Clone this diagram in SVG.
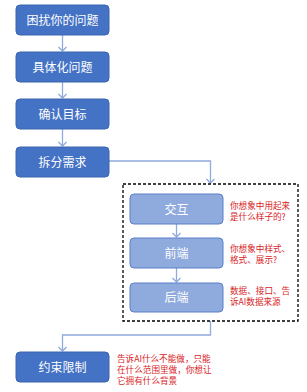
<svg xmlns="http://www.w3.org/2000/svg" width="307" height="392" viewBox="0 0 307 392">
<style>
.main{fill:#4472C4;stroke:#3B64AE;stroke-width:1}
.sub{fill:#8FAADC;stroke:#5B7FC8;stroke-width:1}
.lbl{font-family:"Noto Sans CJK SC","Noto Sans",sans-serif;font-size:12px;fill:#fff;text-anchor:middle}
.note{font-family:"Noto Sans CJK SC","Liberation Sans",sans-serif;font-size:8.6px;fill:#D8241F}
.conn{fill:none;stroke:#8FAADC;stroke-width:1.3}
</style>
<defs>
<marker id="arr" markerWidth="10" markerHeight="10" refX="5" refY="5" orient="auto" markerUnits="userSpaceOnUse" viewBox="0 0 10 10">
<path d="M1,1 L5,5 L1,9" fill="none" stroke="#8FAADC" stroke-width="1.3"/>
</marker>
</defs>
<g id="connectors">
<path class="conn" d="M62.5,35 V51" marker-end="url(#arr)"/>
<path class="conn" d="M62.5,82 V98" marker-end="url(#arr)"/>
<path class="conn" d="M62.5,129 V146" marker-end="url(#arr)"/>
<path class="conn" d="M109,161 H210.5 V183" marker-end="url(#arr)"/>
<path class="conn" d="M176.5,224 V237" marker-end="url(#arr)"/>
<path class="conn" d="M176.5,268 V282" marker-end="url(#arr)"/>
<path class="conn" d="M210.5,321 V335 H62.5 V351" marker-end="url(#arr)"/>
</g>
<g id="group-box">
<rect x="123" y="184" width="175" height="137" fill="none" stroke="#000" stroke-width="1.3" stroke-dasharray="3,2"/>
</g>
<g id="n1"><rect class="main" x="16" y="5" width="93" height="30" rx="4"/><text class="lbl" x="62.5" y="24.5">困扰你的问题</text></g>
<g id="n2"><rect class="main" x="16" y="52" width="93" height="30" rx="4"/><text class="lbl" x="62.5" y="71.5">具体化问题</text></g>
<g id="n3"><rect class="main" x="16" y="99" width="93" height="30" rx="4"/><text class="lbl" x="62.5" y="118.5">确认目标</text></g>
<g id="n4"><rect class="main" x="16" y="147" width="93" height="30" rx="4"/><text class="lbl" x="62.5" y="166.5">拆分需求</text></g>
<g id="n5"><rect class="sub" x="130" y="194" width="93" height="30" rx="4"/><text class="lbl" x="176.5" y="213.5">交互</text></g>
<g id="n6"><rect class="sub" x="130" y="238" width="93" height="30" rx="4"/><text class="lbl" x="176.5" y="257.5">前端</text></g>
<g id="n7"><rect class="sub" x="130" y="283" width="93" height="29" rx="4"/><text class="lbl" x="176.5" y="302">后端</text></g>
<g id="n8"><rect class="main" x="16" y="352" width="93" height="30" rx="4"/><text class="lbl" x="62.5" y="371.5">约束限制</text></g>
<g id="notes">
<text class="note" x="230" y="209">你想象中用起来</text>
<text class="note" x="230" y="220">是什么样子的?</text>
<text class="note" x="230" y="251.5">你想象中样式、</text>
<text class="note" x="230" y="262.5">格式、展示?</text>
<text class="note" x="230" y="293.5">数据、接口、告</text>
<text class="note" x="230" y="304.5">诉AI数据来源</text>
<text class="note" x="117" y="362">告诉AI什么不能做，只能</text>
<text class="note" x="117" y="373">在什么范围里做，你想让</text>
<text class="note" x="117" y="384">它拥有什么背景</text>
</g>
</svg>
